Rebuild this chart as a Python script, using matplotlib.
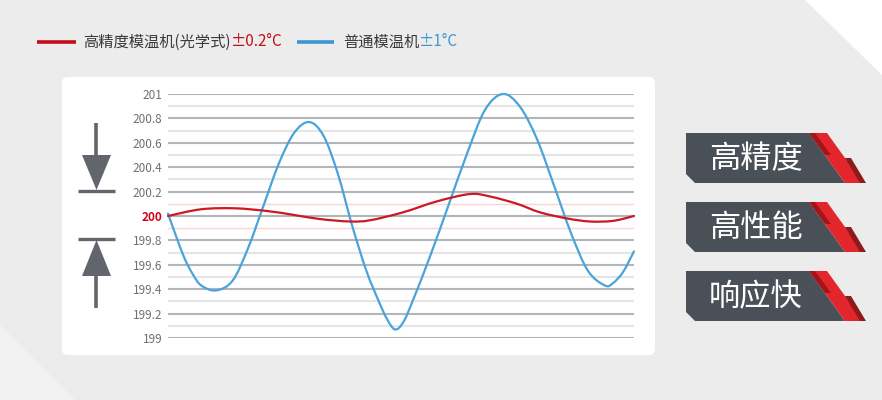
import matplotlib.pyplot as plt
from matplotlib.patches import Polygon, FancyBboxPatch, PathPatch
from matplotlib.path import Path
from matplotlib.lines import Line2D

plt.rcParams['font.family'] = ['Noto Sans CJK SC', 'DejaVu Sans']

# data (x = position along the time axis, y = temperature)
blue_x = [0, 8.3, 16.7, 25, 33.3, 48, 64.6, 80.0, 95.3, 110.6, 126.0, 141.3,
          155.6, 169.9, 184.2, 198.4, 210.3, 218.7, 227, 235.3, 245, 263, 281,
          299, 317, 335, 352, 369, 386, 403, 420, 437, 445, 455, 466]
blue_y = [200.02, 199.83, 199.65, 199.52, 199.43, 199.39, 199.47, 199.735, 200.08,
          200.425, 200.68, 200.77, 200.656, 200.345, 199.92, 199.55, 199.31, 199.16,
          199.07, 199.13, 199.31, 199.69, 200.10, 200.51, 200.87, 201.00, 200.895,
          200.63, 200.25, 199.86, 199.55, 199.43, 199.45, 199.54, 199.71]

red_x = [0, 33, 67, 100, 125, 152, 182, 202, 235, 269, 302, 322, 349, 372, 399,
         422, 445, 466]
red_y = [200.00, 200.055, 200.063, 200.04, 200.01, 199.975, 199.955, 199.965,
         200.03, 200.12, 200.18, 200.16, 200.10, 200.03, 199.98, 199.955, 199.96, 200.00]

major_ticks = [199.0, 199.2, 199.4, 199.6, 199.8, 200.0, 200.2, 200.4, 200.6, 200.8, 201.0]
tick_labels = ['199', '199.2', '199.4', '199.6', '199.8', '200', '200.2', '200.4', '200.6', '200.8', '201']
minor_ticks = [199.1, 199.3, 199.5, 199.7, 200.3, 200.5, 200.7, 200.9]
limit_lines = [199.9, 200.1]

legend_main = ['高精度模温机(光学式)', '普通模温机']
legend_tol = ['±0.2°C', '±1°C']
badges = ['高精度', '高性能', '响应快']


def smooth_path(xs, ys):
    # smooth line through the points (catmull-rom as cubic bezier segments)
    pts = list(zip(xs, ys))
    verts = [pts[0]]
    codes = [Path.MOVETO]
    n = len(pts)
    for i in range(n - 1):
        p0 = pts[max(i - 1, 0)]
        p1 = pts[i]
        p2 = pts[i + 1]
        p3 = pts[min(i + 2, n - 1)]
        c1 = (p1[0] + (p2[0] - p0[0]) / 6, p1[1] + (p2[1] - p0[1]) / 6)
        c2 = (p2[0] - (p3[0] - p1[0]) / 6, p2[1] - (p3[1] - p1[1]) / 6)
        verts += [c1, c2, p2]
        codes += [Path.CURVE4] * 3
    return Path(verts, codes)


W, H = 882, 400
fig = plt.figure(figsize=(W / 100, H / 100), dpi=100)
fig.patch.set_facecolor('#ececec')

# background / decoration layer in pixel coordinates
bg = fig.add_axes([0, 0, 1, 1], zorder=0)
bg.set_xlim(0, W)
bg.set_ylim(H, 0)
bg.axis('off')
bg.add_patch(Polygon([(805, 0), (882, 0), (882, 75)], closed=True, fc='white', ec='none'))
bg.add_patch(Polygon([(0, 325), (0, 400), (75, 400)], closed=True, fc='#f2f2f2', ec='none'))
bg.add_patch(FancyBboxPatch((62, 77), 593, 278, boxstyle='round,pad=0,rounding_size=6',
                            fc='white', ec='none'))

# up / down arrows on the left
gray = '#62666c'
bg.add_line(Line2D([96, 96], [123, 156], color=gray, lw=2.6, solid_capstyle='butt'))
bg.add_patch(Polygon([(82, 155), (111, 155), (96.5, 190)], closed=True, fc=gray, ec='none'))
bg.add_line(Line2D([78, 115], [191, 191], color=gray, lw=2.4, solid_capstyle='butt'))
bg.add_line(Line2D([78, 115], [239, 239], color=gray, lw=2.4, solid_capstyle='butt'))
bg.add_patch(Polygon([(96.5, 240), (111, 276), (82, 276)], closed=True, fc=gray, ec='none'))
bg.add_line(Line2D([96, 96], [275, 308], color=gray, lw=2.6, solid_capstyle='butt'))

# badges on the right
for i, label in enumerate(badges):
    y0 = 133 + i * 69
    y1 = y0 + 50
    bg.add_patch(Polygon([(686, y0), (809, y0), (845, y1), (695, y1), (686, y1 - 9)],
                         closed=True, fc='#4a5058', ec='none'))
    bg.add_patch(Polygon([(809, y0), (827, y0), (863, y1), (845, y1)],
                         closed=True, fc='#e3262b', ec='none'))
    bg.add_patch(Polygon([(809, y0), (815, y0), (831, y0 + 22), (825, y0 + 22)],
                         closed=True, fc='#a3151b', ec='none'))
    bg.add_patch(Polygon([(845, y0 + 25), (851, y0 + 25), (866, y1), (860, y1)],
                         closed=True, fc='#8e1a1c', ec='none'))
    bg.text(756, y0 + 26, label, color='white', fontsize=22.5, ha='center', va='center')

# legend row
leg_colors = ['#c40d1a', '#3a97d4']
leg_x = [(37, 76, 83), (297, 334, 343)]
for (l0, l1, tx), main, tol, col in zip(leg_x, legend_main, legend_tol, leg_colors):
    bg.add_line(Line2D([l0, l1], [42, 42], color=col, lw=2.6, solid_capstyle='butt'))
    t = bg.text(tx, 42, main, color='#3a3a3a', fontsize=11, ha='left', va='center')
    bg.annotate(tol, xy=(1, 0.5), xycoords=t, color=col, fontsize=11,
                ha='left', va='center')

# chart
ax = fig.add_axes([168 / W, (H - 338) / H, (634 - 168) / W, (338 - 94) / H], zorder=1)
ax.patch.set_alpha(0)
ax.set_xlim(0, 466)
ax.set_ylim(199, 201)
for s in ax.spines.values():
    s.set_visible(False)
ax.set_xticks([])
ax.set_yticks(major_ticks)
ax.set_yticklabels(tick_labels)
ax.set_yticks(minor_ticks, minor=True)
ax.tick_params(axis='y', which='both', length=0, pad=4, labelsize=8.5, labelcolor='#6c7077')
ax.grid(True, which='major', axis='y', color='#b2b5ba', lw=1.5)
ax.grid(True, which='minor', axis='y', color='#e5e5e5', lw=1.5)
for v in limit_lines:
    ax.axhline(v, color='#fad3d3', lw=1)
for lab in ax.get_yticklabels():
    if lab.get_text() == '200':
        lab.set_color('#d0021b')
        lab.set_fontweight('bold')

ax.add_patch(PathPatch(smooth_path(blue_x, blue_y), fc='none', ec='#4aa3d9', lw=1.6,
                       clip_on=False, zorder=3, capstyle='round', joinstyle='round'))
ax.add_patch(PathPatch(smooth_path(red_x, red_y), fc='none', ec='#cb1823', lw=1.6,
                       clip_on=False, zorder=4, capstyle='round', joinstyle='round'))

fig.savefig('out.png', dpi=100, facecolor=fig.get_facecolor())
